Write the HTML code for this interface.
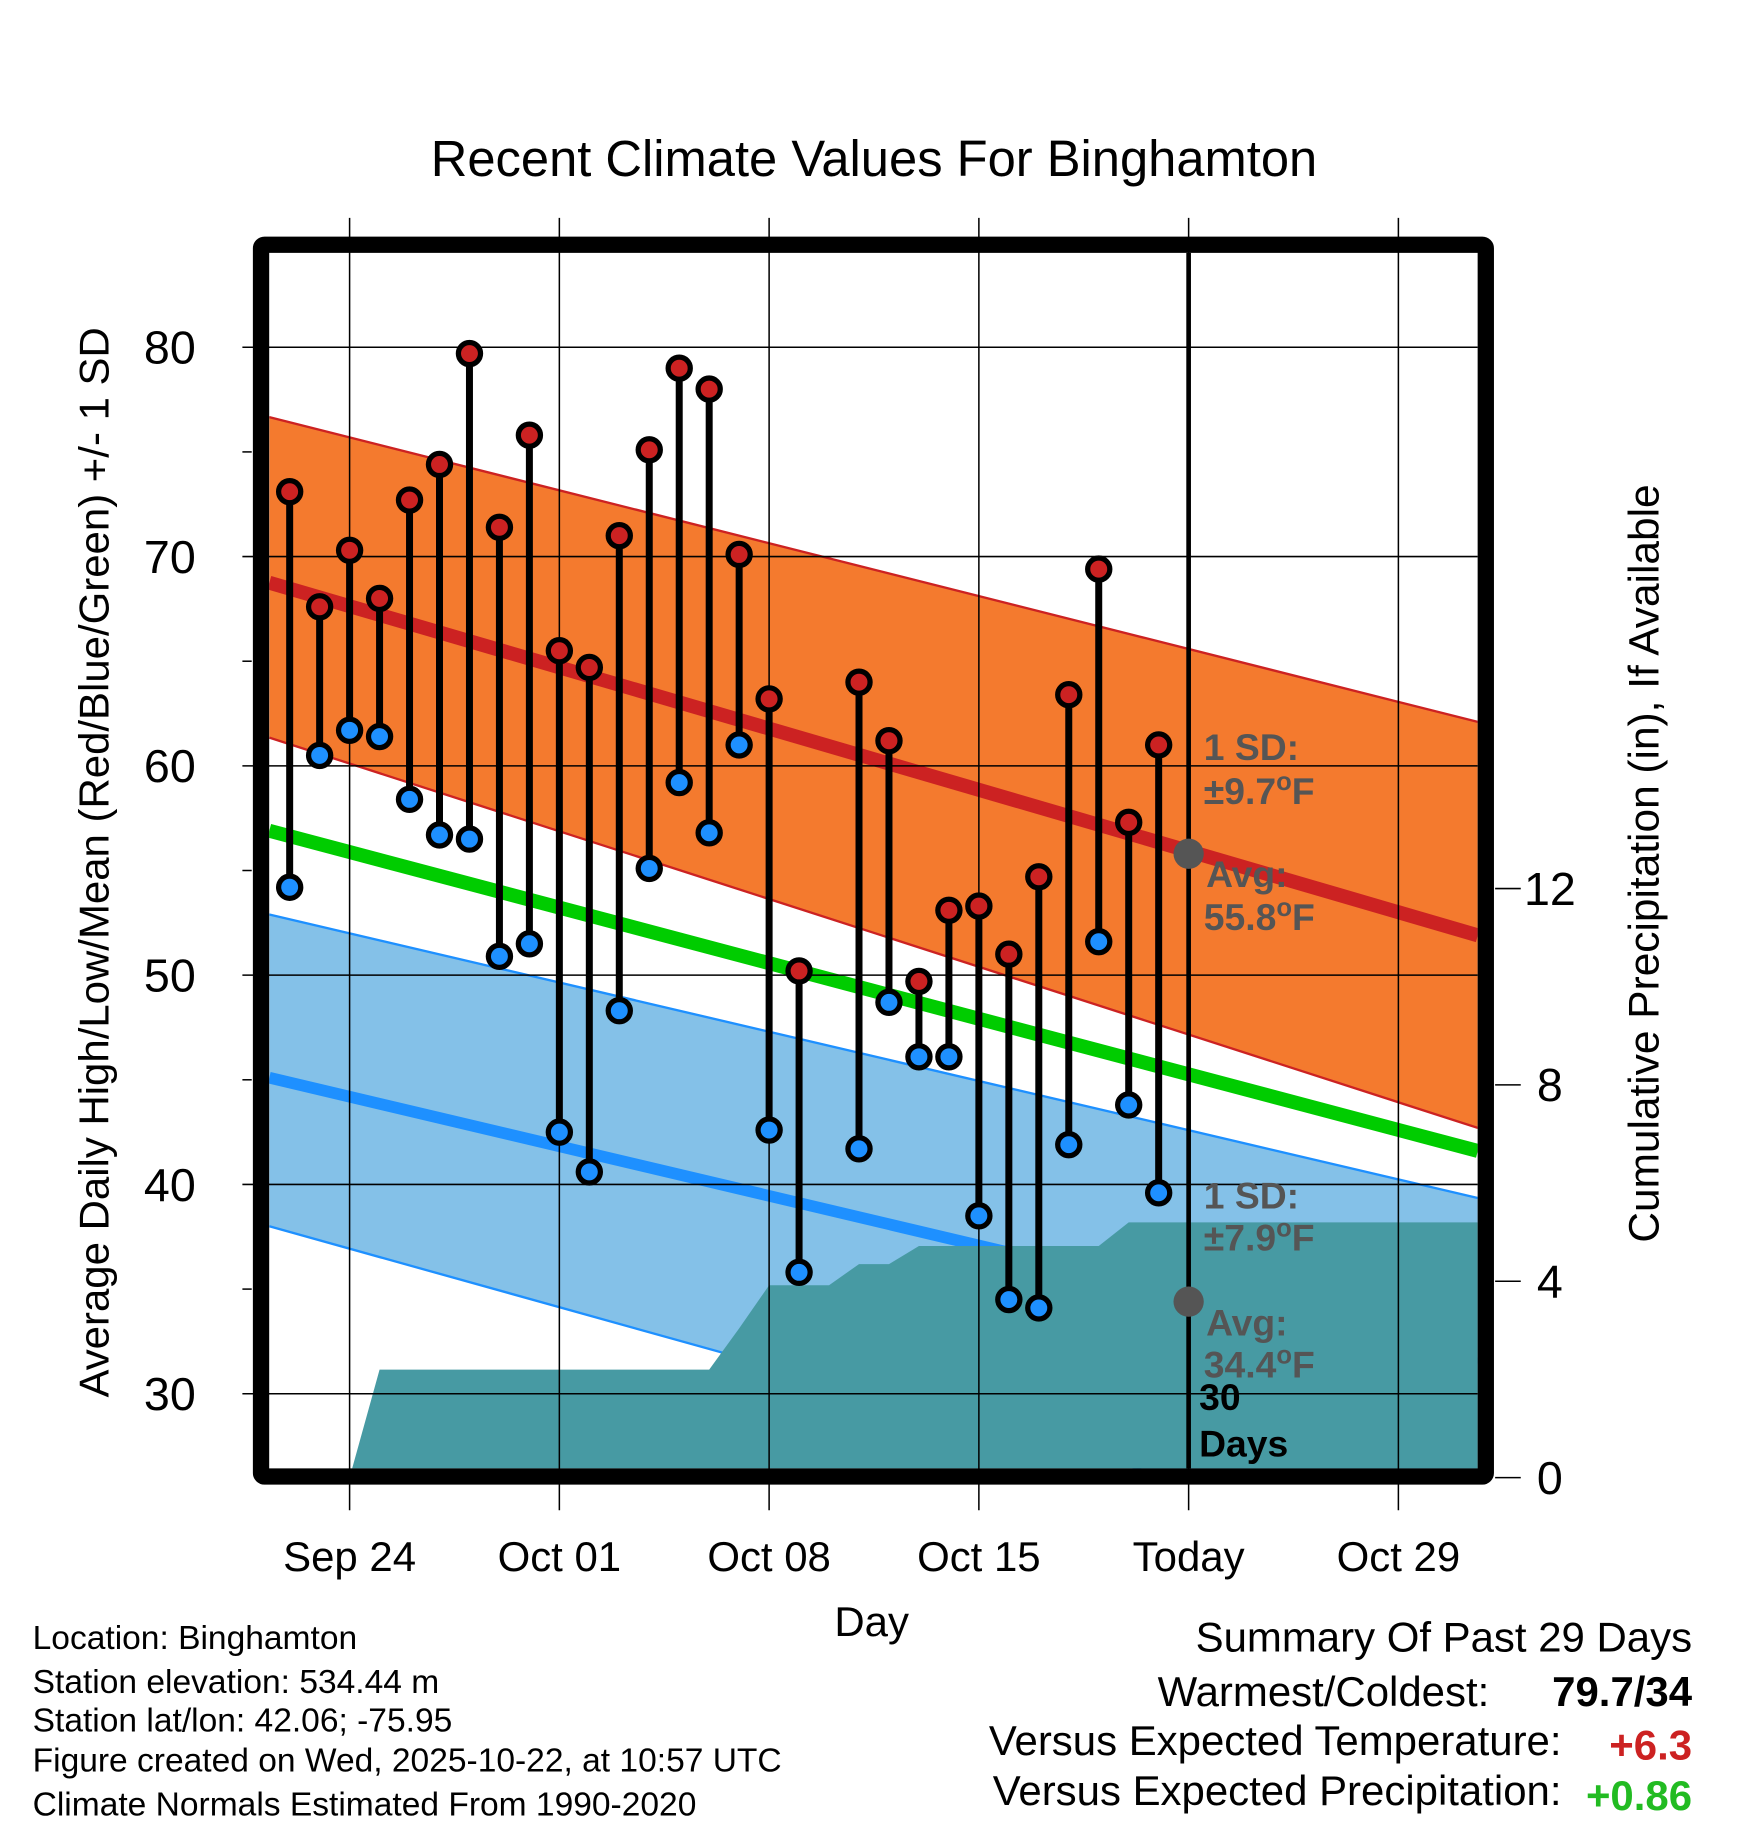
<!DOCTYPE html>
<html><head><meta charset="utf-8"><style>
html,body{margin:0;padding:0;background:#fff;}
svg{display:block;font-family:"Liberation Sans",Arial,sans-serif;}
</style></head><body>
<svg id="chart" width="1748" height="1828" viewBox="0 0 1500 1568.65" xmlns="http://www.w3.org/2000/svg">
<rect width="1500" height="1568.65" fill="#fff"/>
<g id="g"></g>
</svg>
<script>
// ---- data ----
const days = [-2,-1,0,1,2,3,4,5,6,7,8,9,10,11,12,13,14,15,17,18,19,20,21,22,23,24,25,26,27]; // day index, Sep 24 = 0
const highs = [73.1,67.6,70.3,68.0,72.7,74.4,79.7,71.4,75.8,65.5,64.7,71.0,75.1,79.0,78.0,70.1,63.2,50.2,64.0,61.2,49.7,53.1,53.3,51.0,54.7,63.4,69.4,57.3,61.0];
const lows = [54.2,60.5,61.7,61.4,58.4,56.7,56.5,50.9,51.5,42.5,40.6,48.3,55.1,59.2,56.8,61.0,42.6,35.8,41.7,48.7,46.1,46.1,38.5,34.5,34.1,41.9,51.6,43.8,39.6];
const normDays = [-2.68, 37.65];
const highAvg = [68.75, 51.9];
const highUpper = [76.66, 62.1];
const highLower = [61.35, 42.7];
const meanAvg = [56.9, 41.6];
const lowAvg = [45.1, 31.45];
const lowUpper = [52.9, 39.35];
const lowLower = [38.0, 21.9];
const precipDays = [0,1,12,13,14,16,17,18,19,25,26,37.65];
const precipVals = [0,2.2,2.2,3.04,3.92,3.92,4.35,4.35,4.72,4.72,5.2,5.2];
const xTickDays = [0,7,14,21,28,35];
const xTickLabels = ["Sep 24","Oct 01","Oct 08","Oct 15","Today","Oct 29"];
const yTicks = [30,40,50,60,70,80];
const pTicks = [0,4,8,12];
const todayDay = 28;
const todayHighAvg = 55.8, todayLowAvg = 34.4;

// ---- axes ----
const L=231,R=1268,T=217,B=1260;
const X = d => 300 + d*25.714;
const Y = v => 298 + (80-v)*17.96;
const P = v => 1268 - v*42.125;
const NS="http://www.w3.org/2000/svg";
const g=document.getElementById('g');
function mk(tag,attrs,parent){const e=document.createElementNS(NS,tag);for(const k in attrs)e.setAttribute(k,attrs[k]);(parent||g).appendChild(e);return e;}

const defs=mk('defs',{});
const cp=mk('clipPath',{id:'plotclip'},defs);
mk('rect',{x:L,y:T,width:R-L,height:B-T},cp);
const plot=mk('g',{'clip-path':'url(#plotclip)'});



function band(up,lo,fill,name){
  const pts=[[X(normDays[0]),Y(up[0])],[X(normDays[1]),Y(up[1])],[X(normDays[1]),Y(lo[1])],[X(normDays[0]),Y(lo[0])]];
  const p=mk('polygon',{points:pts.map(a=>a.join(',')).join(' '),fill:fill},plot);
  
  
}
function line(v,color,w,name){
  const l=mk('line',{x1:X(normDays[0]),y1:Y(v[0]),x2:X(normDays[1]),y2:Y(v[1]),stroke:color,'stroke-width':w},plot);
  
  
}
band(highUpper,highLower,'#f47a2e','high-sd-band');
line(highUpper,'#cc2222',2,'high-upper-edge');
line(highLower,'#cc2222',2,'high-lower-edge');
band(lowUpper,lowLower,'#84c1e8','low-sd-band');
line(lowUpper,'#1e90ff',2,'low-upper-edge');
line(lowLower,'#1e90ff',2,'low-lower-edge');
line(highAvg,'#cc2222',12,'normal-high-line');
line(meanAvg,'#00cc00',12,'normal-mean-line');
line(lowAvg,'#1e90ff',10,'normal-low-line');

let pp=[[X(precipDays[0]),P(0)]];
precipDays.forEach((d,i)=>pp.push([X(d),P(precipVals[i])]));
pp.push([X(precipDays[precipDays.length-1]),P(0)]);
const pa=mk('polygon',{points:pp.map(a=>a.join(',')).join(' '),fill:'#479aa3'},plot);



yTicks.forEach(v=>{const l=mk('line',{x1:208,x2:R,y1:Y(v),y2:Y(v),stroke:'#000','stroke-width':1.3});
  
  
  const t=mk('text',{x:168,y:Y(v)+14,'font-size':40,'text-anchor':'end'});t.textContent=v;
  
  });
[35,45,55,65,75].forEach(v=>{mk('line',{x1:208,x2:216,y1:Y(v),y2:Y(v),stroke:'#000','stroke-width':1.3});});
xTickDays.forEach((d,i)=>{const l=mk('line',{x1:X(d),x2:X(d),y1:187,y2:1296,stroke:'#000','stroke-width':1.3});
  
  
  const t=mk('text',{x:X(d),y:1348,'font-size':36,'text-anchor':'middle'});t.textContent=xTickLabels[i];
  
  });
pTicks.forEach(v=>{mk('line',{x1:1283,x2:1305,y1:P(v),y2:P(v),stroke:'#000','stroke-width':1.3});
  const t=mk('text',{x:1330,y:P(v)+14,'font-size':40,'text-anchor':'middle'});t.textContent=v;
  
  });

const tl=mk('line',{x1:X(todayDay),x2:X(todayDay),y1:T,y2:B,stroke:'#000','stroke-width':4});



days.forEach((d,i)=>{
  const b=mk('line',{x1:X(d),x2:X(d),y1:Y(highs[i]),y2:Y(lows[i]),stroke:'#000','stroke-width':6});
  
  
  const h=mk('circle',{cx:X(d),cy:Y(highs[i]),r:9.5,fill:'#cc2222',stroke:'#000','stroke-width':4.5});
  
  
  const lo=mk('circle',{cx:X(d),cy:Y(lows[i]),r:9.5,fill:'#1e90ff',stroke:'#000','stroke-width':4.5});
  
  
});

[todayHighAvg,todayLowAvg].forEach(v=>{const c=mk('circle',{cx:X(todayDay),cy:Y(v),r:13,fill:'#555'});
  
  });

function txt(x,y,s,attrs,name){const t=mk('text',Object.assign({x:x,y:y},attrs));t.innerHTML=s;
  
  return t;}
const ann={'font-size':32,'font-weight':'bold',fill:'#555'};
txt(1033,652,'1 SD:',ann,'high-sd-label');
txt(1033,690,'±9.7<tspan dy="-12" font-size="22">o</tspan><tspan dy="12">F</tspan>',ann,'high-sd-value');
txt(1035,761,'Avg:',ann,'high-avg-label');
txt(1033,798,'55.8<tspan dy="-12" font-size="22">o</tspan><tspan dy="12">F</tspan>',ann,'high-avg-value');
txt(1033,1037,'1 SD:',ann,'low-sd-label');
txt(1033,1073,'±7.9<tspan dy="-12" font-size="22">o</tspan><tspan dy="12">F</tspan>',ann,'low-sd-value');
txt(1035,1146,'Avg:',ann,'low-avg-label');
txt(1033,1182,'34.4<tspan dy="-12" font-size="22">o</tspan><tspan dy="12">F</tspan>',ann,'low-avg-value');
txt(1029,1210,'30',{'font-size':32,'font-weight':'bold'},'days-label-30');
txt(1029,1250,'Days',{'font-size':32,'font-weight':'bold'},'days-label');

const fr=mk('rect',{x:224,y:210,width:1051,height:1057,fill:'none',stroke:'#000','stroke-width':14,rx:3});



txt(750,151,'Recent Climate Values For Binghamton',{'font-size':43.5,'text-anchor':'middle'},'chart-title');
txt(748,1404,'Day',{'font-size':36,'text-anchor':'middle'},'x-axis-title');
txt(0,0,'Average Daily High/Low/Mean (Red/Blue/Green) +/- 1 SD',{'font-size':36,'text-anchor':'middle',transform:'translate(93,740) rotate(-90)'},'y-axis-title');
txt(0,0,'Cumulative Precipitation (in), If Available',{'font-size':36.4,'text-anchor':'middle',transform:'translate(1423,741) rotate(-90)'},'precip-axis-title');

const info=['Location: Binghamton','Station elevation: 534.44 m','Station lat/lon: 42.06; -75.95','Figure created on Wed, 2025-10-22, at 10:57 UTC','Climate Normals Estimated From 1990-2020'];
const infoY=[1415,1453,1486,1520,1558];
info.forEach((s,i)=>txt(28,infoY[i],s,{'font-size':28.8},'station-info-line'));

txt(1452,1417,'Summary Of Past 29 Days',{'font-size':36,'text-anchor':'end'},'summary-title');
txt(1278,1464,'Warmest/Coldest:',{'font-size':36,'text-anchor':'end'},'warmest-coldest-label');
txt(1452,1464,'79.7/34',{'font-size':36,'text-anchor':'end','font-weight':'bold'},'warmest-coldest-value');
txt(1340,1506,'Versus Expected Temperature:',{'font-size':36,'text-anchor':'end'},'temp-departure-label');
txt(1452,1510,'+6.3',{'font-size':36,'text-anchor':'end','font-weight':'bold',fill:'#cc2222'},'temp-departure-value');
txt(1340,1549,'Versus Expected Precipitation:',{'font-size':36,'text-anchor':'end'},'precip-departure-label');
txt(1452,1553,'+0.86',{'font-size':36,'text-anchor':'end','font-weight':'bold',fill:'#22bb22'},'precip-departure-value');
</script>
</body></html>
